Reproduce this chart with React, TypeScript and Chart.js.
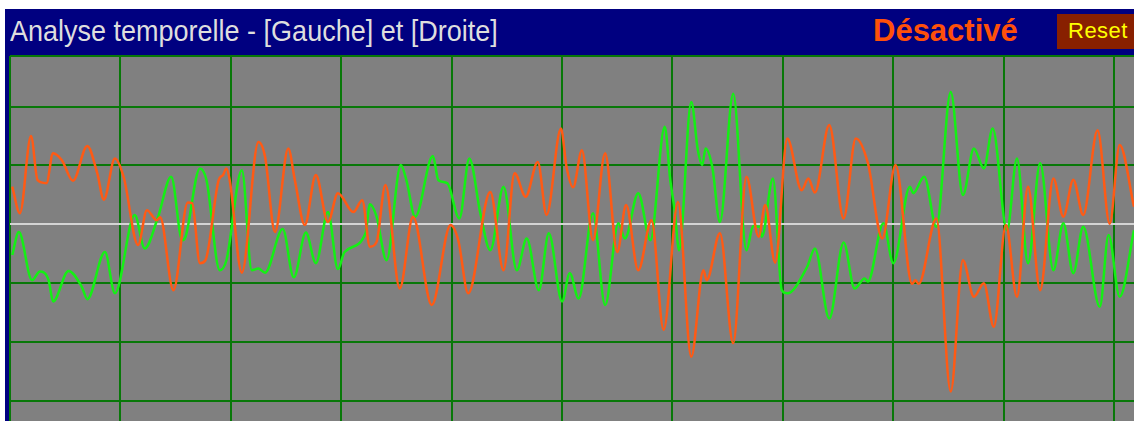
import { useEffect, useRef } from "react";
import { Chart, registerables } from "chart.js";

Chart.register(...registerables);

// Left channel (orange): time in ms, level in grid divisions
const gaucheTime = [
  0.2, 0.9, 1.9, 2.5, 3.3, 3.9, 4.7, 5.7, 7.0, 7.9,
  8.5, 9.5, 10.3, 11.6, 12.4, 13.3, 13.6, 14.8, 16.1, 16.5,
  17.2, 17.7, 18.9, 19.3, 19.6, 19.9, 21.0, 22.5, 23.1, 24.0,
  25.2, 25.8, 26.7, 27.7, 28.8, 29.7, 31.1, 31.9, 32.6, 33.2,
  34.0, 35.3, 36.5, 38.2, 39.9, 40.6, 41.5, 43.5, 44.7, 45.7,
  46.7, 47.8, 48.6, 49.9, 50.4, 51.0, 51.8, 52.8, 53.9, 55.0,
  55.8, 56.9, 58.1, 59.2, 60.5, 61.7, 62.8, 63.1, 64.3, 65.5,
  66.7, 67.8, 68.4, 69.3, 70.4, 71.7, 72.3, 72.9, 74.2, 75.5,
  76.6, 77.7, 79.0, 80.2, 81.7, 82.0, 82.3, 83.9, 85.2, 86.3,
  87.3, 88.2, 89.1, 90.2, 91.2, 92.2, 93.3, 94.5, 95.4, 96.3,
  97.2, 98.5, 99.6, 100.5, 101.8,
];
const gaucheLevel = [
  0.64, 0.19, 1.5, 0.75, 0.7, 1.21, 1.09, 0.74, 1.33, 0.87,
  0.42, 1.12, 0.8, -0.35, 0.24, 0.07, 0.12, -1.12, 0.37, 0.36,
  -0.66, -0.61, 0.75, 0.84, 0.95, 0.75, -0.82, 1.4, 1.15, -0.13,
  1.29, 0.75, -0.01, 0.84, 0.04, 0.53, 0.21, 0.41, -0.38, -0.3,
  0.67, -1.09, 0.13, -1.37, -0.01, -0.27, -1.17, 0.55, -0.78, 0.87,
  0.47, 1.06, 0.16, 1.63, 0.98, 0.63, 1.26, -0.27, 1.21, -0.47,
  0.33, -0.78, 0.07, -1.79, 0.38, -2.25, -0.78, -0.95, -0.15, -2.02,
  0.81, -0.21, 0.33, -0.65, 1.46, 0.58, 0.78, 0.54, 1.69, 0.1,
  1.46, 1.04, -0.24, 1.01, -1.01, -0.95, -1.01, 0.1, -2.84, -0.61,
  -1.23, -1.0, -1.74, -0.01, -1.23, 0.64, -1.12, 0.78, 0.13, 0.76,
  0.16, 1.6, 0.01, 1.35, 0.3,
];

// Right channel (green)
const droiteTime = [
  0.2, 0.8, 2.0, 2.7, 3.5, 3.9, 5.3, 6.5, 7.0, 8.6,
  9.5, 11.3, 12.2, 13.4, 14.6, 15.6, 15.9, 17.2, 17.8, 19.0,
  19.6, 21.0, 21.9, 22.5, 23.1, 24.7, 25.7, 26.8, 27.7, 28.8,
  29.7, 30.3, 32.2, 32.6, 33.2, 34.1, 35.4, 35.9, 36.7, 38.3,
  38.8, 39.6, 40.7, 41.6, 42.6, 43.5, 44.7, 45.9, 46.8, 47.9,
  48.8, 50.0, 50.7, 51.5, 52.8, 53.9, 55.1, 55.7, 56.9, 58.0,
  59.3, 59.8, 60.2, 60.6, 61.7, 62.3, 62.7, 63.0, 63.6, 64.3,
  65.5, 66.7, 67.3, 67.9, 68.1, 69.1, 69.9, 70.4, 72.2, 72.9,
  74.2, 75.5, 76.5, 77.4, 77.7, 79.1, 80.0, 81.5, 81.8, 82.8,
  83.9, 85.2, 86.3, 87.3, 88.2, 89.0, 90.3, 91.2, 92.2, 93.3,
  94.5, 95.4, 96.3, 97.2, 98.7, 99.5, 100.5, 101.8,
];
const droiteLevel = [
  -0.52, -0.13, -0.95, -0.8, -0.95, -1.31, -0.79, -1.06, -1.27, -0.47,
  -1.17, 0.16, -0.41, 0.12, 0.81, -0.27, -0.21, 0.95, 0.75, -0.78,
  -0.61, 0.92, -0.78, -0.75, -0.82, -0.08, -0.9, -0.14, -0.66, 0.21,
  -0.76, -0.47, -0.15, 0.34, 0.13, -0.61, 1.01, 0.75, 0.13, 1.16,
  0.75, 0.7, 0.1, 1.12, 0.19, -0.44, 0.64, -0.78, -0.24, -1.12,
  -0.15, -1.31, -0.83, -1.26, 0.19, -1.37, 0.02, -0.24, 0.53, -0.27,
  1.66, 0.75, 0.24, -0.44, 2.08, 1.26, 1.01, 1.29, 0.98, 0.04,
  2.22, -0.44, -0.03, -0.04, -0.21, 0.78, -1.12, -1.17, -0.72, -0.41,
  -1.6, -0.31, -1.09, -0.92, -0.97, 0.02, -0.66, 0.64, 0.53, 0.81,
  -0.04, 2.25, 0.5, 1.29, 0.95, 1.63, -0.1, 1.12, -0.66, 1.04,
  -0.78, 0.02, -0.83, -0.04, -1.4, -0.18, -1.23, -0.1,
];

// Grid divisions (10 ms horizontally, 1 unit vertically)
const timeTicks = [0, 10, 20, 30, 40, 50, 60, 70, 80, 90, 100];
const levelTicks = [-3, -2, -1, 0, 1, 2];
const TIME_MAX = 101.8;
const LEVEL_MIN = -3.34;
const LEVEL_MAX = 2.86;

const TITLE = "Analyse temporelle - [Gauche] et [Droite]";
const STATUS = "Désactivé";
const RESET = "Reset";

const FONT = '"Liberation Sans", Arial, sans-serif';

const plotBackground = {
  id: "plotBackground",
  beforeDraw(chart: any) {
    const { ctx, chartArea } = chart;
    ctx.save();
    ctx.fillStyle = "#808080";
    ctx.fillRect(
      chartArea.left,
      chartArea.top,
      chartArea.right - chartArea.left,
      chartArea.bottom - chartArea.top
    );
    ctx.restore();
  },
};

export default function App() {
  const canvasRef = useRef<HTMLCanvasElement>(null);

  useEffect(() => {
    const canvas = canvasRef.current;
    if (!canvas) return;
    const toPoints = (t: number[], v: number[]) =>
      t.map((x, i) => ({ x, y: v[i] }));

    const chart = new Chart(canvas, {
      type: "line",
      data: {
        datasets: [
          {
            label: "Gauche",
            data: toPoints(gaucheTime, gaucheLevel),
            borderColor: "#ff5a14",
            borderWidth: 2.5,
            pointRadius: 0,
            cubicInterpolationMode: "monotone",
            fill: false,
          },
          {
            label: "Droite",
            data: toPoints(droiteTime, droiteLevel),
            borderColor: "#14f014",
            borderWidth: 2.5,
            pointRadius: 0,
            cubicInterpolationMode: "monotone",
            fill: false,
          },
        ],
      },
      options: {
        responsive: false,
        animation: false,
        events: [],
        layout: { padding: { left: 10, top: 2, right: 0, bottom: 0 } },
        plugins: {
          legend: { display: false },
          title: { display: false },
          tooltip: { enabled: false },
        },
        scales: {
          x: {
            type: "linear",
            min: 0,
            max: TIME_MAX,
            afterBuildTicks: (scale: any) => {
              scale.ticks = timeTicks.map((value) => ({ value }));
            },
            ticks: { display: false },
            border: { display: false },
            grid: { color: "#087808", lineWidth: 2, drawTicks: false },
          },
          y: {
            type: "linear",
            min: LEVEL_MIN,
            max: LEVEL_MAX,
            afterBuildTicks: (scale: any) => {
              scale.ticks = [...levelTicks, LEVEL_MAX].map((value) => ({ value }));
            },
            ticks: { display: false },
            border: { display: false },
            grid: {
              color: (ctx: any) =>
                ctx.tick && ctx.tick.value === 0 ? "#d4d4d4" : "#087808",
              lineWidth: 2,
              drawTicks: false,
            },
          },
        },
      },
      plugins: [plotBackground],
    } as any);

    return () => chart.destroy();
  }, []);

  return (
    <div
      style={{
        position: "fixed",
        left: 0,
        top: 0,
        width: 1134,
        height: 421,
        overflow: "hidden",
        background: "#ffffff",
        fontFamily: FONT,
      }}
    >
      <div
        style={{
          position: "absolute",
          left: 5,
          top: 9,
          right: 0,
          bottom: 0,
          background: "#000080",
        }}
      />
      <div
        style={{
          position: "absolute",
          left: 10,
          top: 16,
          fontSize: 30,
          lineHeight: "30px",
          color: "#dedede",
          whiteSpace: "nowrap",
          transform: "scaleX(0.9)",
          transformOrigin: "left top",
        }}
      >
        {TITLE}
      </div>
      <div
        style={{
          position: "absolute",
          left: 873,
          top: 15,
          fontSize: 31,
          lineHeight: "31px",
          fontWeight: "bold",
          color: "#ff500a",
          whiteSpace: "nowrap",
        }}
      >
        {STATUS}
      </div>
      <div
        style={{
          position: "absolute",
          left: 1057,
          top: 14,
          width: 100,
          height: 35,
          background: "#882000",
        }}
      />
      <div
        style={{
          position: "absolute",
          left: 1068,
          top: 20,
          fontSize: 22,
          lineHeight: "22px",
          color: "#ffff00",
          whiteSpace: "nowrap",
          letterSpacing: 0.5,
        }}
      >
        {RESET}
      </div>
      <canvas
        ref={canvasRef}
        width={1134}
        height={367}
        style={{
          position: "absolute",
          left: 0,
          top: 54,
          width: 1134,
          height: 367,
        }}
      />
    </div>
  );
}
